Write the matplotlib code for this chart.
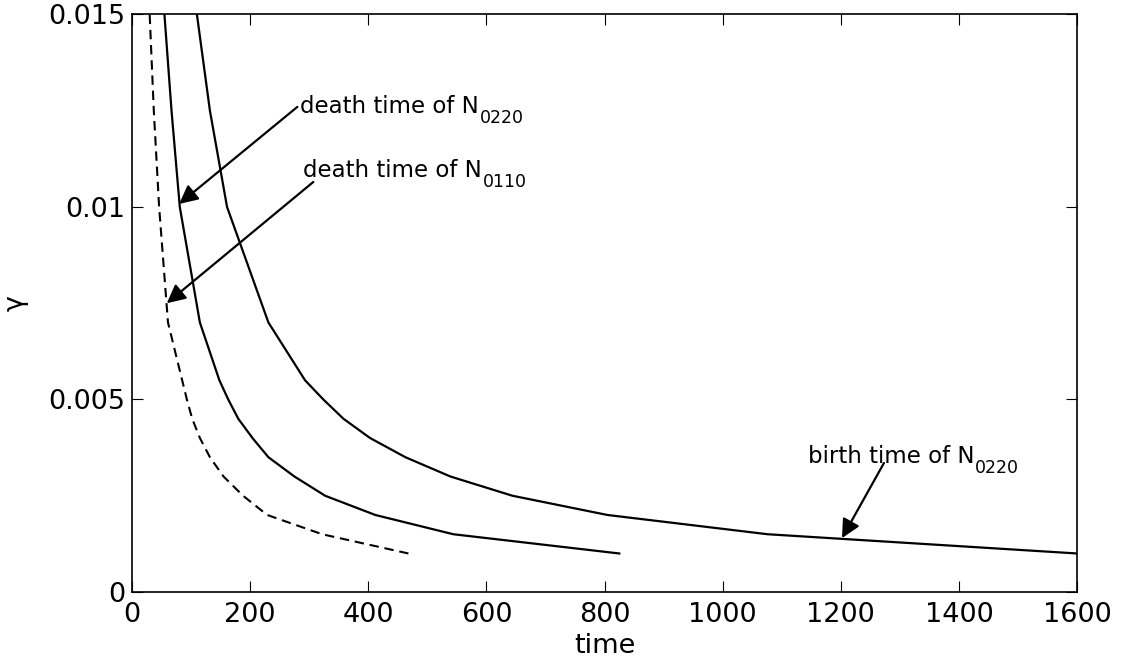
import matplotlib
matplotlib.use("Agg")
import matplotlib.pyplot as plt

plt.rcParams['font.family'] = ['DejaVu Sans']

# gamma values (y) at which times were computed
gamma = [0.001, 0.0015, 0.002, 0.0025, 0.003, 0.0035, 0.004, 0.0045,
         0.005, 0.0055, 0.007, 0.01, 0.0125, 0.015]
birth_N0220 = [1600, 1076, 805, 644, 539, 463, 403, 358, 324, 293, 231, 161, 132, 110]
death_N0220 = [825, 544, 412, 327, 275, 231, 204, 180, 163, 148, 115, 81, 67, 55]
death_N0110 = [468, 322, 229, 188, 155, 132, 115, 102, 93, 85, 61, 46, 37, 30]

xticks = [0, 200, 400, 600, 800, 1000, 1200, 1400, 1600]
yticks = [0, 0.005, 0.01, 0.015]
yticklabels = ['0', '0.005', '0.01', '0.015']

fig = plt.figure(figsize=(11.22, 6.68), dpi=100)
ax = fig.add_axes([0.1176, 0.1138, 0.8424, 0.8645])

ax.plot(death_N0110, gamma, color='k', lw=1.5, linestyle=(0, (4.5, 2.8)))
ax.plot(death_N0220, gamma, color='k', lw=1.6)
ax.plot(birth_N0220, gamma, color='k', lw=1.6)

ax.set_xlim(0, 1600)
ax.set_ylim(0, 0.015)
ax.set_xticks(xticks)
ax.set_xticklabels([str(t) for t in xticks])
ax.set_yticks(yticks)
ax.set_yticklabels(yticklabels)
ax.tick_params(direction='in', length=8, width=0.8, labelsize=19.5,
               top=True, right=True, pad=5, colors='k')
ax.tick_params(axis='x', pad=7)
for s in ax.spines.values():
    s.set_linewidth(1.2)

ax.set_xlabel('time', fontsize=19.5, labelpad=4)
ax.set_ylabel('γ', fontsize=19.5, labelpad=14)

arrow = dict(arrowstyle='-|>', mutation_scale=28, color='k', lw=1.6,
             shrinkA=0, shrinkB=0)


def label(x, y, main, sub):
    t = ax.text(x, y, main, fontsize=16.5, va='baseline', ha='left')
    ax.annotate(sub, xy=(1, 0), xycoords=t, xytext=(0.5, -3.8),
                textcoords='offset points', fontsize=12.5, va='baseline', ha='left')


ax.annotate('', xy=(80, 0.01008), xytext=(280, 0.0126), arrowprops=arrow)
label(285, 0.01244, 'death time of N', '0220')

ax.annotate('', xy=(59, 0.0075), xytext=(307, 0.01065), arrowprops=arrow)
label(290, 0.01078, 'death time of N', '0110')

ax.annotate('', xy=(1202, 0.0014), xytext=(1273, 0.00335), arrowprops=arrow)
label(1144, 0.00335, 'birth time of N', '0220')

fig.savefig('out.png', dpi=100)
